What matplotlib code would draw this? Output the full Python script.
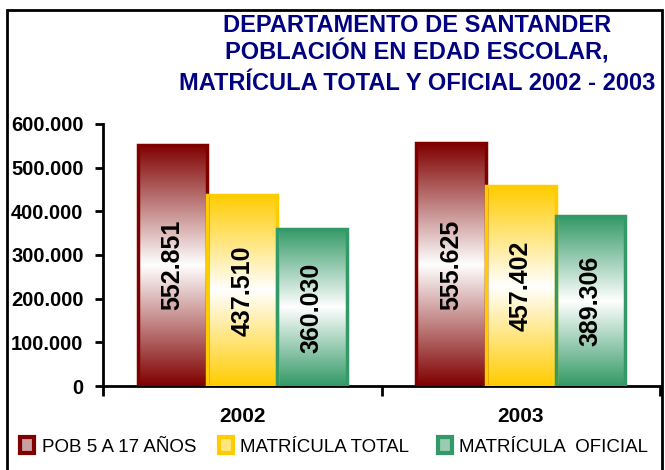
import numpy as np
import matplotlib
matplotlib.use("Agg")
import matplotlib.pyplot as plt
from matplotlib.colors import LinearSegmentedColormap
from matplotlib.patches import Rectangle

# datos
years = ['2002', '2003']
series = ['POB 5 A 17 AÑOS', 'MATRÍCULA TOTAL', 'MATRÍCULA  OFICIAL']
pob = [552851, 555625]
mat_total = [437510, 457402]
mat_oficial = [360030, 389306]
yticks = [0, 100000, 200000, 300000, 400000, 500000, 600000]
ytick_labels = ['0', '100.000', '200.000', '300.000', '400.000', '500.000', '600.000']
title_lines = ['DEPARTAMENTO DE SANTANDER', 'POBLACIÓN EN EDAD ESCOLAR,',
               'MATRÍCULA TOTAL Y OFICIAL 2002 - 2003']

colors = ['#800000', '#FFCC00', '#339966']
light = ['#C9A0A0', '#FFE680', '#99CCB3']

plt.rcParams['font.family'] = ['Liberation Sans', 'DejaVu Sans']

fig = plt.figure(figsize=(6.65, 4.7), dpi=100)
ax = fig.add_axes([103 / 665, 1 - 386 / 470, (660 - 103) / 665, (386 - 124) / 470])

x = np.arange(len(years))
w = 0.25
grad = 1 - np.abs(np.linspace(-1, 1, 256))
grad = grad.reshape(-1, 1)


def fmt(v):
    return '{:,}'.format(v).replace(',', '.')


for i, vals in enumerate([pob, mat_total, mat_oficial]):
    cmap = LinearSegmentedColormap.from_list('g%d' % i, [colors[i], '#FFFFFF'])
    bars = ax.bar(x + (i - 1) * w, vals, w, facecolor='none',
                  edgecolor=colors[i], linewidth=2.5, zorder=3)
    for b, v in zip(bars, vals):
        x0 = b.get_x()
        im = ax.imshow(grad, cmap=cmap, aspect='auto', origin='lower',
                       extent=(x0, x0 + w, 0, v), zorder=2, vmin=0, vmax=1)
        im.set_clip_path(Rectangle((x0, 0), w, v, transform=ax.transData))
        ax.text(x0 + w / 2, v / 2, fmt(v), rotation=90, ha='center', va='center',
                fontsize=18, fontweight='bold', color='black', zorder=4)

ax.set_xlim(-0.5, 1.5)
ax.set_ylim(0, 600000)
ax.set_yticks(yticks)
ax.set_yticklabels(ytick_labels, fontsize=14.5, fontweight='bold')
ax.set_xticks([-0.5, 0.5, 1.5])
ax.set_xticklabels([])
ax.set_xticks(x, minor=True)
ax.set_xticklabels(years, minor=True, fontsize=15, fontweight='bold')
ax.tick_params(axis='x', which='minor', length=0, pad=15)
ax.tick_params(axis='x', which='major', length=7, width=2, direction='out')
ax.tick_params(axis='y', length=6, width=2, direction='out', pad=8)
for s in ['top', 'right']:
    ax.spines[s].set_visible(False)
for s in ['left', 'bottom']:
    ax.spines[s].set_linewidth(2)

# titulo en tres lineas
for txt, yc in zip(title_lines, [26, 52, 84]):
    fig.text(417 / 665, 1 - yc / 470, txt, ha='center', va='center',
             fontsize=17, fontweight='bold', color='#000080')

# leyenda a mano
mk_x = [20, 219, 438]
tx_x = [42, 240, 459]
for i in range(3):
    fig.patches.append(Rectangle((mk_x[i] / 665, 1 - 453 / 470), 14 / 665, 16 / 470,
                                 transform=fig.transFigure, facecolor=light[i],
                                 edgecolor=colors[i], linewidth=3))
    fig.text(tx_x[i] / 665, 1 - 448 / 470, series[i], ha='left', va='center',
             fontsize=13.5, color='black')

fig.patches.append(Rectangle((7 / 665, -0.02), (662 - 7) / 665, 1 - 10 / 470 + 0.02,
                             transform=fig.transFigure, fill=False, edgecolor='black',
                             linewidth=2))

fig.savefig('out.png', dpi=100)
